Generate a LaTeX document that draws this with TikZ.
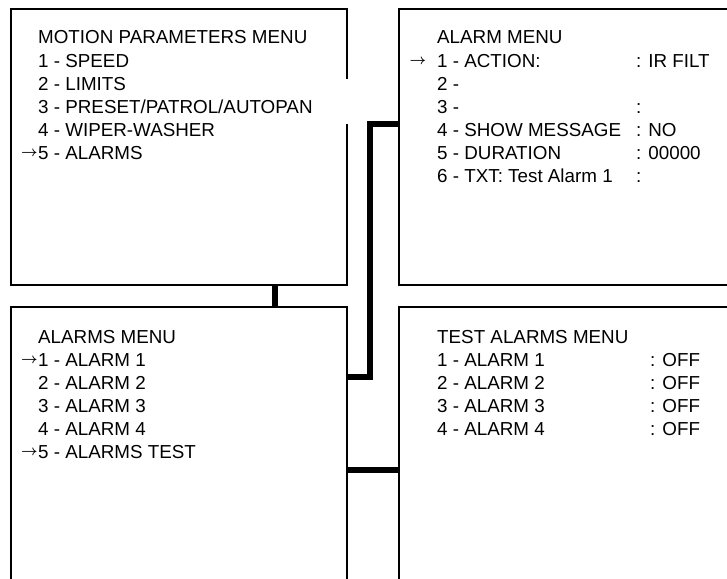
\documentclass[tikz,border=0pt]{standalone}
\usepackage{fontspec}
\setmainfont{Liberation Sans}
\usetikzlibrary{positioning}
\newcommand{\pointer}[1][0.5pt]{\llap{\raisebox{2.5pt}{\fontsize{14}{14}\selectfont\boldmath$\rightarrow$}\hspace{#1}}}

\begin{document}
\begin{tikzpicture}[
        x=1pt, y=-1pt,
        menubox/.style={draw, line width=2pt, inner sep=0pt, outer sep=0pt},
        link/.style={line width=5.5pt},
        item/.style={anchor=base west, inner sep=0pt, font=\fontsize{18.8}{23}\selectfont}
    ]
        \useasboundingbox (0,0) rectangle (727,578);
        \clip (0,0) rectangle (727,578);

        % menu screens
        \node[menubox, minimum width=336pt, minimum height=276pt] (motion) at (179,147) {};
        \node[menubox, minimum width=361pt, minimum height=276pt, right=52pt of motion] (alarm) {};
        \node[menubox, minimum width=336pt, minimum height=293pt, below=22pt of motion] (alarms) {};
        \node[menubox, minimum width=361pt, minimum height=293pt, right=52pt of alarms] (test) {};
        \draw[white, line width=3pt] ([yshift=-70pt]motion.north east) -- ([yshift=-115pt]motion.north east);

        % links between screens
        \draw[link] ([xshift=96pt]motion.south) -- ([xshift=96pt]alarms.north);
        \draw[link] ([yshift=-70pt]alarms.north east) -| (370,124) -- (alarm.west |- 0,124);
        \draw[link] ([yshift=-163pt]alarms.north east) -- ([yshift=-163pt]test.north west);

        % menu texts
        \foreach \txt [count=\i from 0] in {MOTION PARAMETERS MENU, 1 - SPEED, 2 - LIMITS, 3 - PRESET/PATROL/AUTOPAN, 4 - WIPER-WASHER, \pointer5 - ALARMS}
            \node[item] (mp\i) at (38,44+23*\i) {\txt};
        \foreach \txt [count=\i from 0] in {ALARM MENU, \pointer[11pt]1 - ACTION:, 2 -, 3 -, 4 - SHOW MESSAGE, 5 - DURATION, 6 - TXT: Test Alarm 1}
            \node[item] (am\i) at (437,44+23*\i) {\txt};
        \foreach \val/\i in {{: IR FILT}/1, :/3, {: NO}/4, {: 00000}/5, :/6}
            \node[item] (av\i) at (636,44+23*\i) {\val};
        \foreach \txt [count=\i from 0] in {ALARMS MENU, \pointer1 - ALARM 1, 2 - ALARM 2, 3 - ALARM 3, 4 - ALARM 4, \pointer5 - ALARMS TEST}
            \node[item] (as\i) at (38,343+23*\i) {\txt};
        \foreach \txt [count=\i from 0] in {TEST ALARMS MENU, 1 - ALARM 1, 2 - ALARM 2, 3 - ALARM 3, 4 - ALARM 4}
            \node[item] (ta\i) at (437,343+23*\i) {\txt};
        \foreach \i in {1,...,4}
            \node[item] (tv\i) at (650,343+23*\i) {: OFF};
    \end{tikzpicture}
\end{document}
